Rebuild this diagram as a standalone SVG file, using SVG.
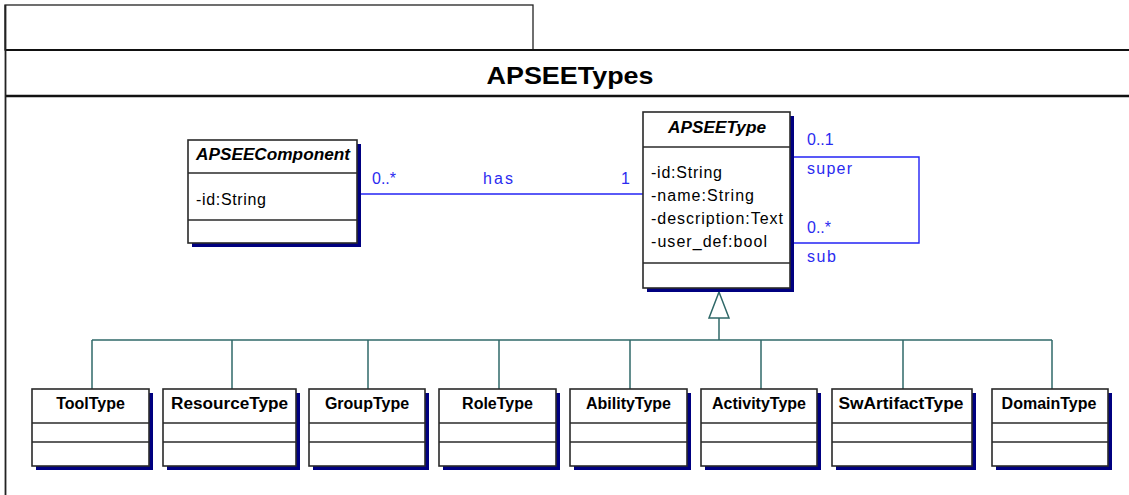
<svg xmlns="http://www.w3.org/2000/svg" width="1129" height="495" viewBox="0 0 1129 495">
  <style>
    .frame { fill: none; stroke: #111; stroke-width: 2; }
    .shadow { fill: #000080; }
    .box { fill: #fff; stroke: #2a2a2a; stroke-width: 1.6; }
    .div { stroke: #2a2a2a; stroke-width: 1.6; }
    .title { font-family: "Liberation Sans", Arial, sans-serif; font-weight: bold; font-size: 24px; fill: #000; }
    .abs { font-family: "Liberation Sans", Arial, sans-serif; font-weight: bold; font-style: italic; font-size: 16px; fill: #000; }
    .cname { font-family: "Liberation Sans", Arial, sans-serif; font-weight: bold; font-size: 16px; fill: #000; }
    .attr { font-family: "Liberation Sans", Arial, sans-serif; font-size: 16px; fill: #000; }
    .assoc { fill: none; stroke: #2323f5; stroke-width: 1.4; }
    .lbl { font-family: "Liberation Sans", Arial, sans-serif; font-size: 16px; fill: #2b2bf0; }
    .gen { fill: none; stroke: #2f6868; stroke-width: 1.5; }
    .tri { fill: #fff; stroke: #2f6868; stroke-width: 1.5; }
  </style>

  <rect x="0" y="0" width="1129" height="495" fill="#fff"/>

  <!-- package frame -->
  <g id="package">
    <rect x="5" y="5" width="528" height="45" fill="none" stroke="#222" stroke-width="1.3"/>
    <line x1="5" y1="50" x2="1129" y2="50" stroke="#111" stroke-width="2"/>
    <line x1="5" y1="96" x2="1129" y2="96" stroke="#111" stroke-width="2.6"/>
    <line x1="5.5" y1="5" x2="5.5" y2="495" stroke="#222" stroke-width="1.8"/>
    <text class="title" x="570" y="84" text-anchor="middle" textLength="167" lengthAdjust="spacingAndGlyphs">APSEETypes</text>
  </g>

  <!-- connectors -->
  <g id="connectors">
    <!-- association APSEEComponent - APSEEType -->
    <line class="assoc" x1="358" y1="194" x2="643" y2="194"/>
    <text class="lbl" x="372" y="184">0..*</text>
    <text class="lbl" x="483" y="184" textLength="30" lengthAdjust="spacing">has</text>
    <text class="lbl" x="621" y="184">1</text>

    <!-- recursive association super/sub -->
    <polyline class="assoc" points="790,157 919,157 919,243 790,243"/>
    <text class="lbl" x="807" y="145">0..1</text>
    <text class="lbl" x="807" y="174" textLength="45" lengthAdjust="spacing">super</text>
    <text class="lbl" x="807" y="233">0..*</text>
    <text class="lbl" x="807" y="262" textLength="29" lengthAdjust="spacing">sub</text>

    <!-- generalization tree -->
    <line class="gen" x1="719" y1="318" x2="719" y2="340"/>
    <line class="gen" x1="92" y1="340" x2="1052" y2="340"/>
    <line class="gen" x1="92" y1="340" x2="92" y2="389"/>
    <line class="gen" x1="232" y1="340" x2="232" y2="389"/>
    <line class="gen" x1="368" y1="340" x2="368" y2="389"/>
    <line class="gen" x1="499" y1="340" x2="499" y2="389"/>
    <line class="gen" x1="630" y1="340" x2="630" y2="389"/>
    <line class="gen" x1="761" y1="340" x2="761" y2="389"/>
    <line class="gen" x1="903" y1="340" x2="903" y2="389"/>
    <line class="gen" x1="1052" y1="340" x2="1052" y2="389"/>
    <polygon class="tri" points="719,292 709,318 729,318"/>
  </g>

  <!-- APSEEComponent -->
  <g id="APSEEComponent">
    <rect class="shadow" x="192" y="144" width="169" height="103"/>
    <rect class="box" x="188" y="140" width="169" height="103"/>
    <line class="div" x1="188" y1="173" x2="357" y2="173"/>
    <line class="div" x1="188" y1="220" x2="357" y2="220"/>
    <text class="abs" x="273" y="160" text-anchor="middle" textLength="154" lengthAdjust="spacingAndGlyphs">APSEEComponent</text>
    <text class="attr" x="196" y="205" textLength="70" lengthAdjust="spacing">-id:String</text>
  </g>

  <!-- APSEEType -->
  <g id="APSEEType">
    <rect class="shadow" x="647" y="116" width="147" height="176"/>
    <rect class="box" x="643" y="112" width="147" height="176"/>
    <line class="div" x1="643" y1="147" x2="790" y2="147"/>
    <line class="div" x1="643" y1="263" x2="790" y2="263"/>
    <text class="abs" x="717" y="133" text-anchor="middle" textLength="98" lengthAdjust="spacingAndGlyphs">APSEEType</text>
    <text class="attr" x="651" y="178" textLength="71" lengthAdjust="spacing">-id:String</text>
    <text class="attr" x="651" y="201" textLength="103" lengthAdjust="spacing">-name:String</text>
    <text class="attr" x="651" y="224" textLength="132" lengthAdjust="spacing">-description:Text</text>
    <text class="attr" x="651" y="247" textLength="116" lengthAdjust="spacing">-user_def:bool</text>
  </g>

  <!-- subtypes -->
  <g id="ToolType">
    <rect class="shadow" x="36" y="393" width="117" height="77"/>
    <rect class="box" x="32" y="389" width="117" height="77"/>
    <line class="div" x1="32" y1="423" x2="149" y2="423"/>
    <line class="div" x1="32" y1="442" x2="149" y2="442"/>
    <text class="cname" x="90.5" y="409" text-anchor="middle">ToolType</text>
  </g>
  <g id="ResourceType">
    <rect class="shadow" x="167" y="393" width="133" height="77"/>
    <rect class="box" x="163" y="389" width="133" height="77"/>
    <line class="div" x1="163" y1="423" x2="296" y2="423"/>
    <line class="div" x1="163" y1="442" x2="296" y2="442"/>
    <text class="cname" x="229.5" y="409" text-anchor="middle" textLength="117" lengthAdjust="spacingAndGlyphs">ResourceType</text>
  </g>
  <g id="GroupType">
    <rect class="shadow" x="313" y="393" width="116" height="77"/>
    <rect class="box" x="309" y="389" width="116" height="77"/>
    <line class="div" x1="309" y1="423" x2="425" y2="423"/>
    <line class="div" x1="309" y1="442" x2="425" y2="442"/>
    <text class="cname" x="367" y="409" text-anchor="middle">GroupType</text>
  </g>
  <g id="RoleType">
    <rect class="shadow" x="443" y="393" width="117" height="77"/>
    <rect class="box" x="439" y="389" width="117" height="77"/>
    <line class="div" x1="439" y1="423" x2="556" y2="423"/>
    <line class="div" x1="439" y1="442" x2="556" y2="442"/>
    <text class="cname" x="497.5" y="409" text-anchor="middle">RoleType</text>
  </g>
  <g id="AbilityType">
    <rect class="shadow" x="574" y="393" width="117" height="77"/>
    <rect class="box" x="570" y="389" width="117" height="77"/>
    <line class="div" x1="570" y1="423" x2="687" y2="423"/>
    <line class="div" x1="570" y1="442" x2="687" y2="442"/>
    <text class="cname" x="628.5" y="409" text-anchor="middle">AbilityType</text>
  </g>
  <g id="ActivityType">
    <rect class="shadow" x="705" y="393" width="116" height="77"/>
    <rect class="box" x="701" y="389" width="116" height="77"/>
    <line class="div" x1="701" y1="423" x2="817" y2="423"/>
    <line class="div" x1="701" y1="442" x2="817" y2="442"/>
    <text class="cname" x="759" y="409" text-anchor="middle">ActivityType</text>
  </g>
  <g id="SwArtifactType">
    <rect class="shadow" x="836" y="393" width="140" height="77"/>
    <rect class="box" x="832" y="389" width="140" height="77"/>
    <line class="div" x1="832" y1="423" x2="972" y2="423"/>
    <line class="div" x1="832" y1="442" x2="972" y2="442"/>
    <text class="cname" x="901" y="409" text-anchor="middle" textLength="125" lengthAdjust="spacingAndGlyphs">SwArtifactType</text>
  </g>
  <g id="DomainType">
    <rect class="shadow" x="996" y="393" width="116" height="77"/>
    <rect class="box" x="992" y="389" width="116" height="77"/>
    <line class="div" x1="992" y1="423" x2="1108" y2="423"/>
    <line class="div" x1="992" y1="442" x2="1108" y2="442"/>
    <text class="cname" x="1049" y="409" text-anchor="middle">DomainType</text>
  </g>
</svg>
